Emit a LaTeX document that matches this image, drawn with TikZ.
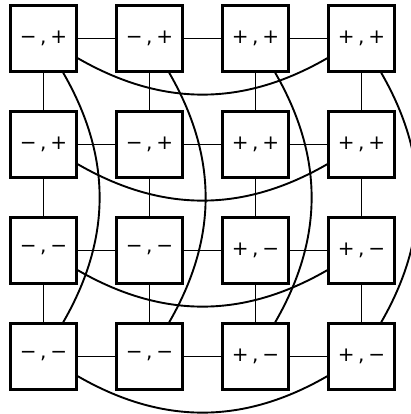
\documentclass[tikz,border=0pt]{standalone}
\usepackage{fontspec}
\setmainfont{DejaVu Sans}
\begin{document}
\begin{tikzpicture}[x=1pt,y=-1pt,
  cell/.style={draw, line width=2.1pt, fill=white, minimum size=66pt, inner sep=0pt,
    font=\fontsize{20}{20}\selectfont},
  link/.style={line width=1.9pt}]
\clip (0,0) rectangle (411,414);
\foreach \r/\b in {1/+,2/+,3/−,4/−}{
  \foreach \c/\a in {1/−,2/−,3/+,4/+}{
    \node[cell] (n\r\c) at ({43.5+106*(\c-1)},{38.5+106*(\r-1)}) {\a\hspace{0.17em},\hspace{0.19em}\b};
  }
}
\foreach \r in {1,2,3,4}{
  \draw[link] (n\r1) -- (n\r2);
  \draw[link] (n\r2) -- (n\r3);
  \draw[link] (n\r3) -- (n\r4);
  \draw[link] (n\r1) to[bend right=30] (n\r4);
}
\foreach \c in {1,2,3,4}{
  \draw[link] (n1\c) -- (n2\c);
  \draw[link] (n2\c) -- (n3\c);
  \draw[link] (n3\c) -- (n4\c);
  \draw[link] (n1\c) to[bend left=30] (n4\c);
}
\end{tikzpicture}
\end{document}
